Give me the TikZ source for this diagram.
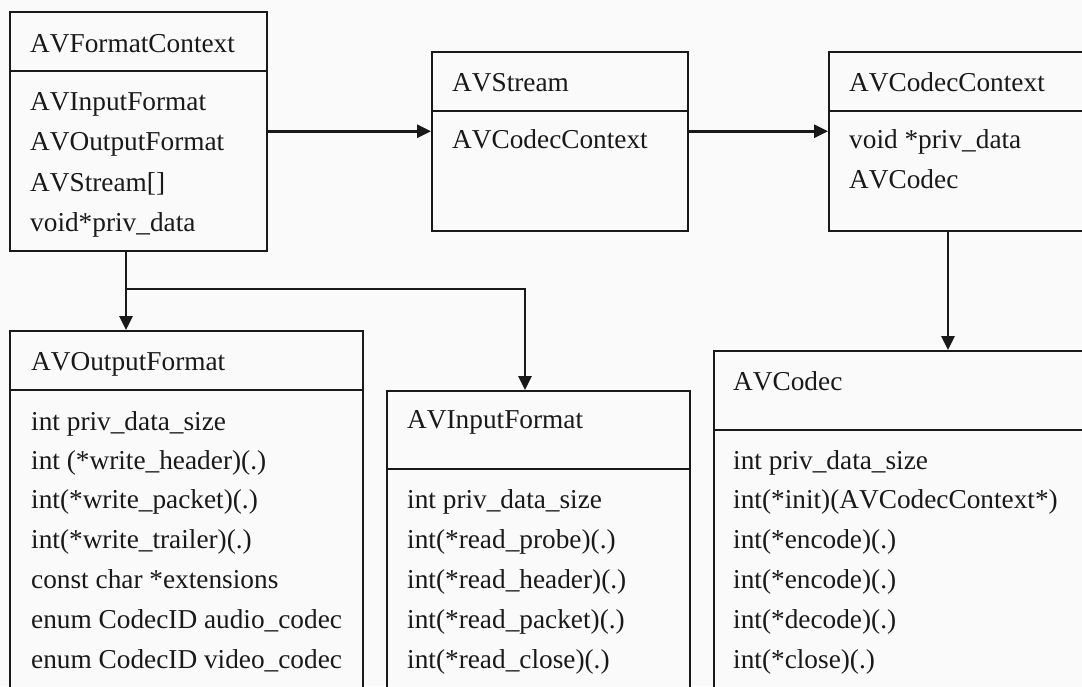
\documentclass[tikz,border=0pt]{standalone}
\usepackage{fontspec}
\setmainfont{Liberation Serif}[Kerning=Off]
\usetikzlibrary{arrows.meta}
\definecolor{ink}{RGB}{25,25,25}
\definecolor{paper}{RGB}{250,250,250}
\tikzset{
  box/.style={draw=ink, line width=1.5pt, fill=paper, anchor=north west, inner sep=0pt},
  divider/.style={draw=ink, line width=1.5pt},
  field/.style={anchor=base west, inner sep=0pt, text=ink, font=\fontsize{27.3}{40}\selectfont},
  link/.style={draw=ink, line width=2.6pt, -{Triangle[length=14pt,width=13pt]}}
}
\begin{document}
\begin{tikzpicture}[x=1pt, y=-1pt]
\useasboundingbox (0,0) rectangle (1082,686);
\fill[paper] (0,0) rectangle (1082,686);
\clip (0,0) rectangle (1082,686);

% structure boxes
\node[box, minimum width=257pt, minimum height=239pt] (fc) at (9,11) {};
\node[box, minimum width=256pt, minimum height=179pt] (st) at (431,51) {};
\node[box, minimum width=272pt, minimum height=179pt] (cc) at (828,51) {};
\node[box, minimum width=353pt, minimum height=370pt] (of) at (9,330) {};
\node[box, minimum width=303pt, minimum height=310pt] (inf) at (386,390) {};
\node[box, minimum width=387pt, minimum height=350pt] (cd) at (713,350) {};

% header separators
\draw[divider] (fc.west |- 0,71) -- (fc.east |- 0,71);
\draw[divider] (st.west |- 0,111) -- (st.east |- 0,111);
\draw[divider] (cc.west |- 0,111) -- (cc.east |- 0,111);
\draw[divider] (of.west |- 0,390) -- (of.east |- 0,390);
\draw[divider] (inf.west |- 0,469) -- (inf.east |- 0,469);
\draw[divider] (cd.west |- 0,430) -- (cd.east |- 0,430);

% AVFormatContext
\node[field] (fc0) at (30,52) {AVFormatContext};
\node[field] (fc1) at (30,110) {AVInputFormat};
\node[field] (fc2) at (30,150) {AVOutputFormat};
\node[field] (fc3) at (30,191) {AVStream[]};
\node[field] (fc4) at (30,231) {void*priv\_data};

% AVStream
\node[field] (st0) at (452,91) {AVStream};
\node[field] (st1) at (452,148) {AVCodecContext};

% AVCodecContext
\node[field] (cc0) at (849,91) {AVCodecContext};
\node[field] (cc1) at (849,148) {void *priv\_data};
\node[field] (cc2) at (849,188) {AVCodec};

% AVOutputFormat
\node[field] (of0) at (31,370) {AVOutputFormat};
\node[field] (of1) at (31,430) {int priv\_data\_size};
\node[field] (of2) at (31,469) {int (*write\_header)(.)};
\node[field] (of3) at (31,508) {int(*write\_packet)(.)};
\node[field] (of4) at (31,548) {int(*write\_trailer)(.)};
\node[field] (of5) at (31,588) {const char *extensions};
\node[field] (of6) at (31,628) {enum CodecID audio\_codec};
\node[field] (of7) at (31,668) {enum CodecID video\_codec};

% AVInputFormat
\node[field] (in0) at (407,428) {AVInputFormat};
\node[field] (in1) at (407,508) {int priv\_data\_size};
\node[field] (in2) at (407,548) {int(*read\_probe)(.)};
\node[field] (in3) at (407,588) {int(*read\_header)(.)};
\node[field] (in4) at (407,628) {int(*read\_packet)(.)};
\node[field] (in5) at (407,668) {int(*read\_close)(.)};

% AVCodec
\node[field] (cd0) at (733,390) {AVCodec};
\node[field] (cd1) at (733,469) {int priv\_data\_size};
\node[field] (cd2) at (733,508) {int(*init)(AVCodecContext*)};
\node[field] (cd3) at (733,548) {int(*encode)(.)};
\node[field] (cd4) at (733,588) {int(*encode)(.)};
\node[field] (cd5) at (733,628) {int(*decode)(.)};
\node[field] (cd6) at (733,668) {int(*close)(.)};

% connectors
\coordinate (split) at (126,289);
\coordinate (turn) at (525,289);
\coordinate (drop) at (948,0);

\draw[link] (fc.east) -- (st.west |- fc.east);
\draw[link] (st.east |- fc.east) -- (cc.west |- fc.east);
\draw[link] (split |- fc.south) -- (split |- of.north);
\draw[link] (split) -- (turn) -- (turn |- inf.north);
\draw[link] (drop |- cc.south) -- (drop |- cd.north);
\end{tikzpicture}
\end{document}
